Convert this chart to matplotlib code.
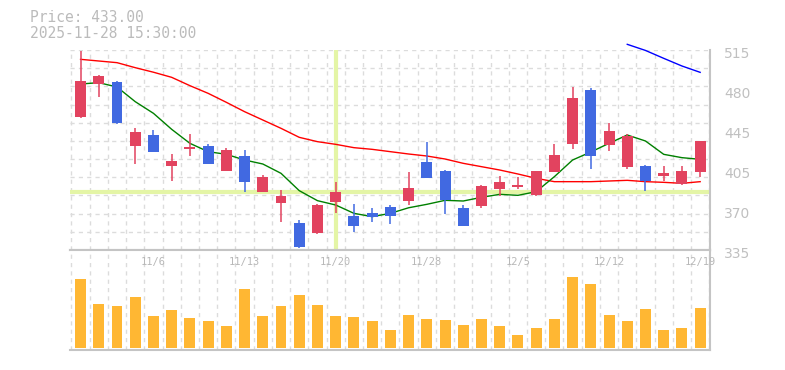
import matplotlib.pyplot as plt
from matplotlib.transforms import ScaledTranslation, blended_transform_factory
import numpy as np

# daily candles, 10/30 .. 12/19
opens = [455.0, 484.7, 486.2, 428.9, 438.5, 410.9, 426.2, 428.6, 406.4, 419.6,
         387.5, 377.6, 359.3, 350.6, 378.5, 365.3, 368.0, 373.4, 379.4, 414.2,
         406.1, 372.8, 374.9, 390.2, 391.7, 384.5, 405.5, 430.4, 479.0, 429.8,
         409.7, 410.6, 401.9, 394.7, 405.5]
closes = [487.1, 491.6, 449.3, 441.2, 423.5, 415.1, 427.7, 412.7, 425.0, 396.5,
          400.7, 383.6, 338.0, 375.5, 387.2, 356.9, 365.0, 365.9, 390.5, 400.1,
          379.7, 356.9, 392.6, 396.2, 393.5, 406.1, 420.5, 472.1, 419.9, 442.1,
          437.6, 397.4, 404.3, 406.1, 433.0]
highs = [514.1, 492.5, 486.7, 444.8, 443.0, 421.4, 439.4, 430.4, 426.8, 425.0,
         402.5, 389.0, 362.0, 376.4, 396.2, 376.1, 372.5, 375.5, 405.5, 432.5,
         407.0, 375.5, 393.5, 401.6, 400.7, 406.1, 430.4, 482.0, 481.1, 449.3,
         439.4, 411.5, 410.6, 410.6, 433.1]
lows = [454.1, 473.0, 448.7, 412.7, 422.9, 397.4, 419.9, 412.1, 406.4, 387.5,
        387.5, 360.5, 336.5, 349.7, 368.0, 350.9, 359.9, 358.7, 375.5, 400.1,
        367.7, 356.9, 372.5, 383.9, 389.9, 383.9, 405.5, 425.9, 407.9, 424.1,
        408.2, 388.4, 397.4, 393.8, 401.0]
volumes = [69, 44, 42, 51, 32, 38, 30, 27, 22, 59, 32, 42, 53, 43, 32, 31, 27, 18,
           33, 29, 28, 23, 29, 22, 13, 20, 29, 71, 64, 33, 27, 39, 18, 20, 40]

ma_short = [484.4, 485.6, 481.7, 468.5, 458.0, 443.6, 431.0, 423.5, 421.1, 416.0,
            412.4, 404.0, 388.4, 379.4, 375.5, 368.0, 365.0, 368.0, 373.0, 376.1,
            379.7, 379.1, 382.4, 385.1, 384.2, 387.5, 401.0, 416.0, 423.2, 431.0,
            438.5, 433.1, 421.1, 418.1, 416.6]
ma_mid = [506.6, 505.1, 503.6, 499.1, 495.0, 490.4, 482.9, 476.0, 467.9, 459.5,
          452.0, 444.5, 436.4, 432.5, 430.1, 427.1, 425.6, 423.5, 421.4, 419.6,
          416.9, 413.0, 410.0, 407.0, 403.4, 399.5, 396.5, 396.5, 396.5, 397.1,
          397.7, 396.5, 395.9, 395.0, 396.5]
ma_long = [np.nan] * 30 + [520.1, 514.6, 507.5, 500.6, 494.9]

date_pos = [4, 9, 14, 19, 24, 29, 34]
date_labels = ["11/6", "11/13", "11/20", "11/28", "12/5", "12/12", "12/19"]
y_ticks = [335, 371, 407, 443, 479, 515]
y_labels = ["335", "370", "405", "445", "480", "515"]
cross_x = 14
cross_y = 386.9

RED = "#e2435f"
BLUE = "#4169e1"
GRID = "#dcdcdc"
EDGE = "#c4c4c4"

fig = plt.figure(figsize=(7.85, 3.7), dpi=100)
ax = fig.add_axes([70 / 785, 120 / 370, 640 / 785, 200 / 370])
axv = fig.add_axes([70 / 785, 20 / 370, 640 / 785, 100 / 370])

x = np.arange(len(opens))
xlim = (-0.58, 34.54)

# grid
for a in (ax, axv):
    for g in np.arange(-0.5, 35, 1.0):
        a.axvline(g, color=GRID, lw=1, ls=(0, (3, 3)), zorder=0)
for g in np.linspace(335, 515, 12):
    ax.axhline(g, color=GRID, lw=1, ls=(0, (3, 3)), zorder=0)

# crosshair
ax.axvline(cross_x, color="#e4f5a6", lw=3, zorder=1)
ax.axhline(cross_y, color="#e4f5a6", lw=3, zorder=1)

# moving averages
ax.plot(x, ma_mid, color="#ff0000", lw=1.0, zorder=2)
ax.plot(x, ma_short, color="#008000", lw=1.0, zorder=2)
ax.plot(x, ma_long, color="#0000ff", lw=1.0, zorder=2, clip_on=False)

# candles
o = np.array(opens)
c = np.array(closes)
colors = [RED if cc >= oo else BLUE for oo, cc in zip(o, c)]
ax.vlines(x, lows, highs, colors=colors, lw=1.1, zorder=3)
body = np.maximum(np.abs(c - o), 1.5)
ax.bar(x, body, bottom=np.minimum(o, c), width=0.6, color=colors, zorder=4)

ax.set_xlim(xlim)
ax.set_ylim(335, 515)
ax.set_xticks([])
ax.yaxis.tick_right()
ax.set_yticks(y_ticks)
ax.set_yticklabels(y_labels)
ax.tick_params(axis="y", length=0, pad=10, labelsize=10, labelcolor="#c0c0c0")
for lab in ax.get_yticklabels():
    lab.set_transform(lab.get_transform() + ScaledTranslation(0, -0.03, fig.dpi_scale_trans))
for s in ("top", "left"):
    ax.spines[s].set_visible(False)
for s in ("bottom", "right"):
    ax.spines[s].set_color(EDGE)
    ax.spines[s].set_linewidth(1.5)

# volume
axv.bar(x, [v * 1000 for v in volumes], width=0.6, color="#ffb733", zorder=2)
axv.set_xlim(xlim)
axv.set_ylim(-2000, 98000)
axv.set_xticks([])
axv.set_yticks([])
axv.spines["left"].set_visible(False)
for s in ("top", "right", "bottom"):
    axv.spines[s].set_color(EDGE)
    axv.spines[s].set_linewidth(1.5)
tr = blended_transform_factory(axv.transData, axv.transAxes)
for p, lab in zip(date_pos, date_labels):
    axv.text(p, 0.88, lab, transform=tr, ha="center", va="center",
             fontsize=7.5, color="#b8b8b8", family="DejaVu Sans Mono", zorder=5)

fig.text(30 / 785, 1 - 18 / 370, "Price: 433.00", fontsize=10.5, color="#bbbbbb",
         family="DejaVu Sans Mono", va="center")
fig.text(30 / 785, 1 - 33 / 370, "2025-11-28 15:30:00", fontsize=10.5, color="#bbbbbb",
         family="DejaVu Sans Mono", va="center")

fig.savefig("out.png", dpi=100)
